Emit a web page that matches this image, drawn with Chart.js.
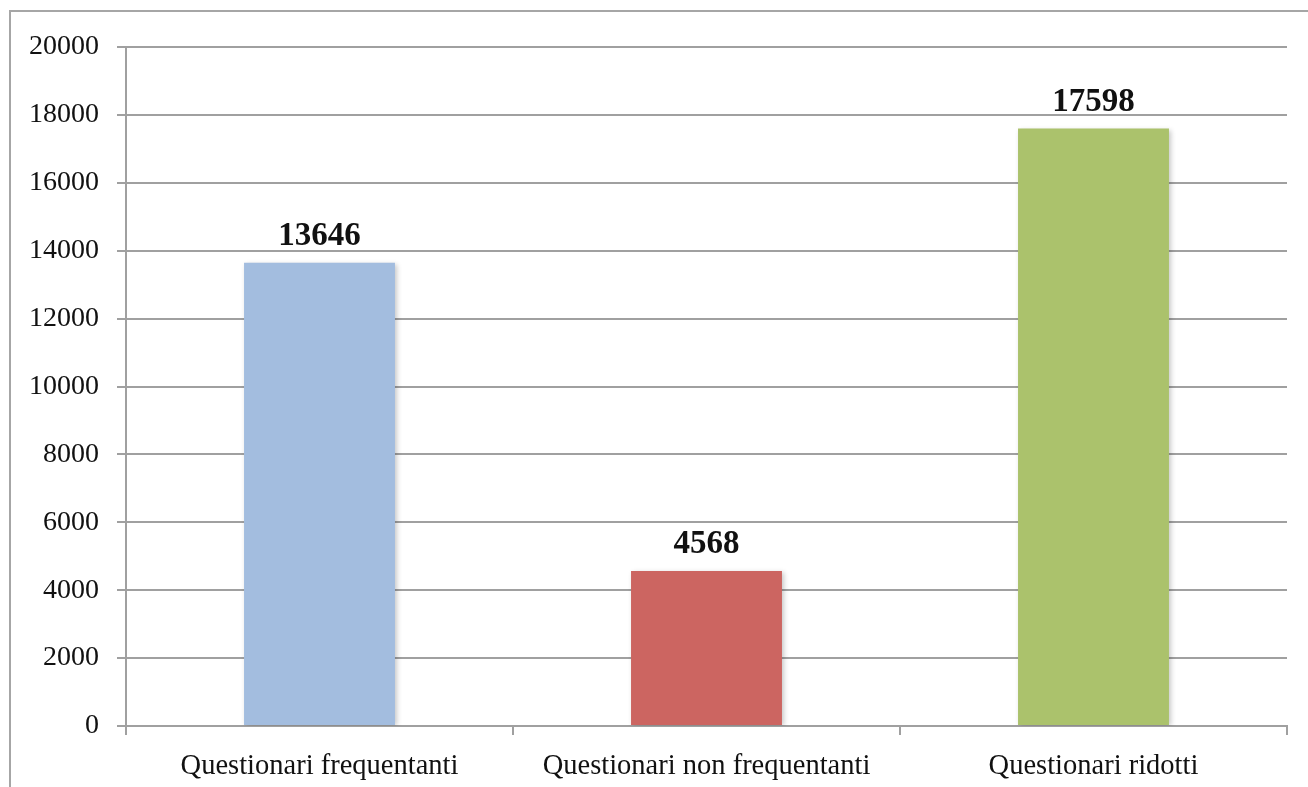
<!DOCTYPE html>
<html>
<head>
<meta charset="utf-8">
<script src="https://cdn.jsdelivr.net/npm/chart.js@4/dist/chart.umd.min.js"></script>
<style>
  html, body { margin: 0; padding: 0; background: #fff; overflow: hidden; }
  #wrap { position: relative; width: 1308px; height: 787px; }
  #frame { position: absolute; left: 9px; top: 10px; width: 1400px; height: 900px;
           border-left: 2px solid #a6a6a6; border-top: 2px solid #a6a6a6; }
  canvas { position: absolute; left: 0; top: 0; }
</style>
</head>
<body>
<div id="wrap">
  <div id="frame"></div>
  <canvas id="myChart" width="1308" height="787"></canvas>
</div>
<script>
const categories = ['Questionari frequentanti', 'Questionari non frequentanti', 'Questionari ridotti']
const counts = [13646, 4568, 17598]
const barColors = ['#a3bddf', '#cc6561', '#abc26c']
const yTicks = [0, 2000, 4000, 6000, 8000, 10000, 12000, 14000, 16000, 18000, 20000]

const gridColor = '#a0a0a0'
const serif = "'Liberation Serif', 'Times New Roman', serif"

// shadow under the bars, like the spreadsheet original
const barShadow = {
  id: 'barShadow',
  beforeDatasetsDraw (chart) {
    const ctx = chart.ctx
    ctx.save()
    ctx.shadowColor = 'rgba(0,0,0,0.22)'
    ctx.shadowBlur = 5
    ctx.shadowOffsetX = 2
    ctx.shadowOffsetY = 1
  },
  afterDatasetsDraw (chart) {
    chart.ctx.restore()
  }
}

// value on top of each bar
const valueLabels = {
  id: 'valueLabels',
  afterDatasetsDraw (chart) {
    const ctx = chart.ctx
    const meta = chart.getDatasetMeta(0)
    ctx.save()
    ctx.font = 'bold 33px ' + serif
    ctx.fillStyle = '#111'
    ctx.textAlign = 'center'
    ctx.textBaseline = 'alphabetic'
    meta.data.forEach((bar, i) => {
      ctx.fillText(String(counts[i]), bar.x, bar.y - 18)
    })
    ctx.restore()
  }
}

const data = {
  labels: categories,
  datasets: [{
    data: counts,
    backgroundColor: barColors,
    borderWidth: 0,
    categoryPercentage: 1,
    barPercentage: 0.39
  }]
}

const config = {
  type: 'bar',
  data: data,
  plugins: [barShadow, valueLabels],
  options: {
    responsive: false,
    animation: false,
    layout: { padding: { left: 0, top: 47, right: 21, bottom: 0 } },
    plugins: {
      legend: { display: false },
      tooltip: { enabled: false }
    },
    scales: {
      y: {
        min: 0,
        max: 20000,
        afterBuildTicks: (scale) => { scale.ticks = yTicks.map(v => ({ value: v })) },
        afterFit: (scale) => { scale.width = 126 },
        grid: { color: gridColor, lineWidth: 2, tickLength: 9 },
        border: { color: gridColor, width: 2 },
        ticks: {
          padding: 18,
          color: '#111',
          font: { family: serif, size: 28 },
          callback: (v) => String(v)
        }
      },
      x: {
        afterFit: (scale) => { scale.height = 61 },
        grid: { offset: true, drawOnChartArea: false, color: gridColor, lineWidth: 2, tickLength: 9 },
        border: { color: gridColor, width: 2 },
        ticks: {
          padding: 14,
          color: '#111',
          maxRotation: 0,
          font: { family: serif, size: 28.5 }
        }
      }
    }
  }
}

var myChart = new Chart(document.getElementById('myChart'), config)
</script>
</body>
</html>
